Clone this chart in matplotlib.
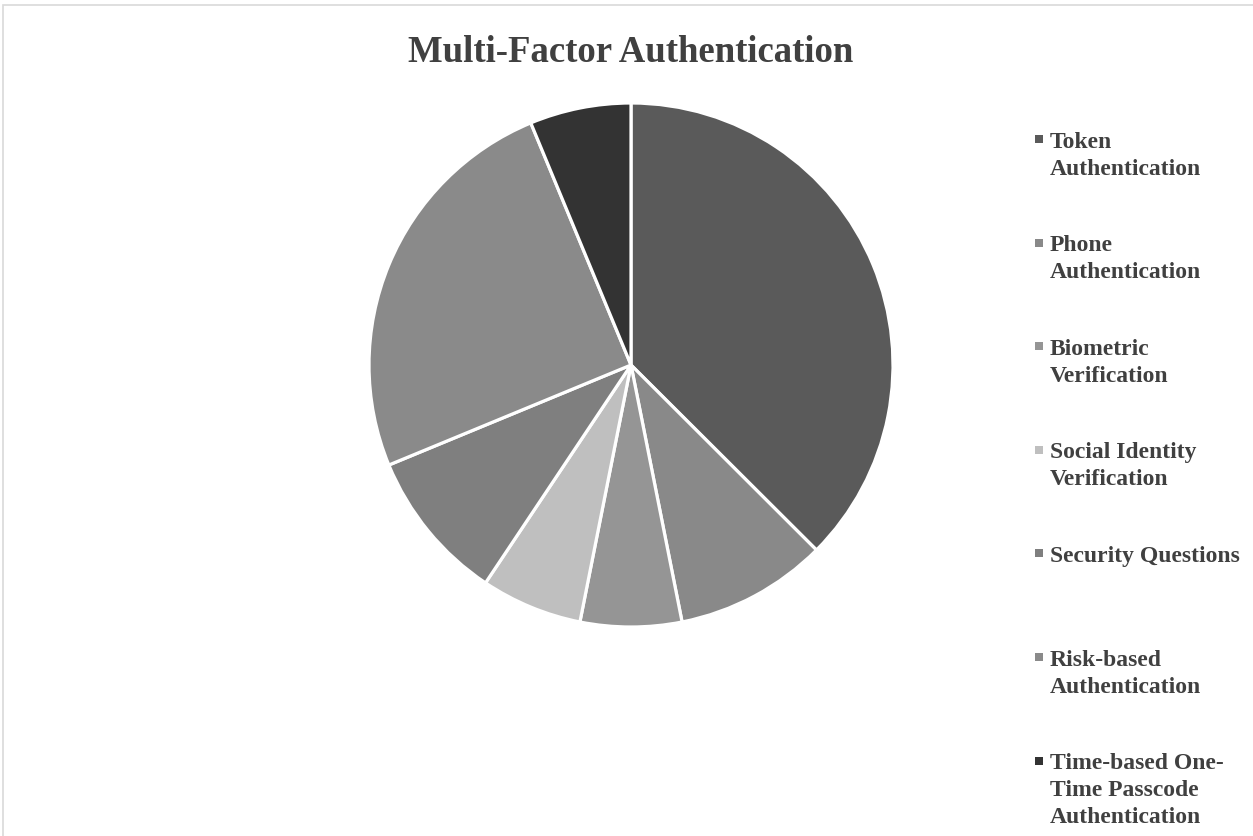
import matplotlib
matplotlib.use('Agg')
import matplotlib.pyplot as plt
from matplotlib.patches import Rectangle

plt.rcParams['font.family'] = ['Liberation Serif', 'DejaVu Serif']

labels = ['Token Authentication', 'Phone Authentication', 'Biometric Verification',
          'Social Identity Verification', 'Security Questions',
          'Risk-based Authentication', 'Time-based One-Time Passcode Authentication']
legend_text = ['Token\nAuthentication', 'Phone\nAuthentication', 'Biometric\nVerification',
               'Social Identity\nVerification', 'Security Questions',
               'Risk-based\nAuthentication', 'Time-based One-\nTime Passcode\nAuthentication']
values = [37.5, 9.4, 6.25, 6.25, 9.4, 25.0, 6.25]
colors = ['#5a5a5a', '#898989', '#959595', '#bfbfbf', '#7f7f7f', '#8a8a8a', '#333333']

W, H = 1253, 836
fig = plt.figure(figsize=(W / 100, H / 100), dpi=100)

# light chart-area border (top and left visible)
fig.patches.append(Rectangle((3 / W, -0.1), 1.2, (H - 5) / H + 0.1, transform=fig.transFigure,
                             fill=False, edgecolor='#d9d9d9', linewidth=1.2))

cx, cy, r = 631, 365, 262
ax = fig.add_axes([(cx - r) / W, (H - cy - r) / H, 2 * r / W, 2 * r / H])
ax.pie(values, colors=colors, startangle=90, counterclock=False, radius=1,
       wedgeprops=dict(edgecolor='white', linewidth=2.3))
ax.set_xlim(-1.0, 1.0)
ax.set_ylim(-1.0, 1.0)
ax.set_aspect('equal')
ax.axis('off')

fig.text(cx / W, 1 - 52 / H, 'Multi-Factor Authentication', ha='center', va='center',
         fontsize=26.5, fontweight='bold', color='#404040')

# legend, drawn by hand to keep Excel-like spacing
y0, step = 139, 103.6
for i, (txt, col) in enumerate(zip(legend_text, colors)):
    y = y0 + i * step
    fig.patches.append(Rectangle((1035 / W, 1 - (y + 4) / H), 8 / W, 8 / H,
                                 transform=fig.transFigure, facecolor=col, edgecolor='none'))
    fig.text(1050 / W, 1 - (y - 7.5) / H, txt, ha='left', va='top', fontsize=17,
             fontweight='bold', color='#404040', linespacing=1.38)

fig.savefig('out.png', dpi=100)
